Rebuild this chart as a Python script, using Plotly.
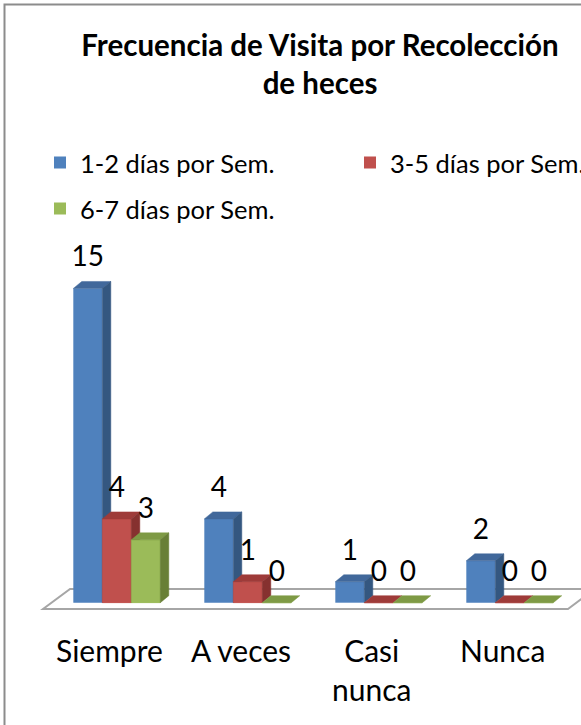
import plotly.graph_objects as go

# ---- data ----
categories = ["Siempre", "A veces", "Casi nunca", "Nunca"]
category_labels = ["Siempre", "A veces", "Casi<br>nunca", "Nunca"]
series_names = ["1-2 días por Sem.", "3-5 días por Sem.", "6-7 días por Sem."]
values_1_2 = [15, 4, 1, 2]
values_3_5 = [4, 1, 0, 0]
values_6_7 = [3, 0, 0, 0]
title_text = "Frecuencia de Visita por Recolección<br>de heces"

# ---- style ----
front_colors = ["#4F81BD", "#C0504D", "#9BBB59"]
top_colors = ["#41689B", "#9E3B39", "#7E9A45"]
side_colors = ["#345780", "#86312F", "#687F36"]
FONT = "Lato"
W, H = 581, 725
PX_PER_CAT = 131.0
X0_PX = 116.8
PX_PER_UNIT = 20.95
Y0_PX = 602.7
xr = [(0 - X0_PX) / PX_PER_CAT, (W - X0_PX) / PX_PER_CAT]
yr = [(Y0_PX - H) / PX_PER_UNIT, (Y0_PX - 0) / PX_PER_UNIT]

bargap = 0.336
nser = 3
bw = (1 - bargap) / nser
ddx = 8.5 / PX_PER_CAT
ddy = 7.0 / PX_PER_UNIT

all_values = [values_1_2, values_3_5, values_6_7]
xs = list(range(len(categories)))

fig = go.Figure()

legends = ["legend", "legend2", "legend3"]
for j, (name, vals) in enumerate(zip(series_names, all_values)):
    fig.add_trace(go.Bar(
        x=xs, y=vals, name=name, marker=dict(color=front_colors[j], line=dict(width=0)),
        legend=legends[j], hoverinfo="skip"))

for j, vals in enumerate(all_values):
    fx, fy, tx, ty, sx, sy = [], [], [], [], [], []
    for i, v in zip(xs, vals):
        x0 = i - (1 - bargap) / 2 + j * bw
        x1 = x0 + bw
        fx += [x0, x1, x1, x0, x0, None]
        fy += [0, 0, v, v, 0, None]
        tx += [x0, x1, x1 + ddx, x0 + ddx, x0, None]
        ty += [v, v, v + ddy, v + ddy, v, None]
        if v > 0:
            sx += [x1, x1 + ddx, x1 + ddx, x1, x1, None]
            sy += [0, ddy, v + ddy, v, 0, None]
    if j > 0:
        fig.add_trace(go.Scatter(x=fx, y=fy, mode="lines", fill="toself",
                                 fillcolor=front_colors[j], line=dict(width=0.5, color=front_colors[j]),
                                 showlegend=False, hoverinfo="skip"))
    fig.add_trace(go.Scatter(x=tx, y=ty, mode="lines", fill="toself",
                             fillcolor=top_colors[j], line=dict(width=0.5, color=top_colors[j]),
                             showlegend=False, hoverinfo="skip"))
    if sx:
        fig.add_trace(go.Scatter(x=sx, y=sy, mode="lines", fill="toself",
                                 fillcolor=side_colors[j], line=dict(width=0.5, color=side_colors[j]),
                                 showlegend=False, hoverinfo="skip"))

label_off = 29.0 / PX_PER_UNIT
for j, vals in enumerate(all_values):
    lx = [i - (1 - bargap) / 2 + (j + 0.5) * bw for i in xs]
    ly = [v + label_off for v in vals]
    fig.add_trace(go.Scatter(x=lx, y=ly, mode="text", text=[str(v) for v in vals],
                             textposition="middle center",
                             textfont=dict(family=FONT, size=28, color="black"),
                             showlegend=False, hoverinfo="skip"))

fl_x0 = -0.5 - 0.063
fl_x1 = len(categories) - 0.5 - 0.056
fl_dx = 27.0 / PX_PER_CAT
fl_yf = (Y0_PX - 609) / PX_PER_UNIT
fl_yb = (Y0_PX - 589) / PX_PER_UNIT
shapes = [
    dict(type="path", xref="x", yref="y", layer="below",
         path=f"M{fl_x0},{fl_yf} L{fl_x1},{fl_yf} L{fl_x1 + fl_dx},{fl_yb} L{fl_x0 + fl_dx},{fl_yb} Z",
         line=dict(color="#A6A6A6", width=2), fillcolor="white"),
    dict(type="rect", xref="paper", yref="paper",
         x0=4.5 / W, x1=1.05, y0=-0.05, y1=1 - 4.5 / H,
         line=dict(color="#8C8C8C", width=2), fillcolor="rgba(0,0,0,0)", layer="below"),
]

annotations = []
for i, lab in enumerate(category_labels):
    annotations.append(dict(x=i, y=(Y0_PX - 630) / PX_PER_UNIT, xref="x", yref="y",
                            text=lab, showarrow=False, xshift=-7, yanchor="top",
                            font=dict(family=FONT, size=30, color="black")))

leg_font = dict(family=FONT, size=25.5, color="black")
fig.update_layout(
    width=W, height=H,
    margin=dict(l=0, r=0, t=0, b=0, autoexpand=False),
    paper_bgcolor="white", plot_bgcolor="white",
    barmode="group", bargap=bargap, bargroupgap=0,
    xaxis=dict(range=xr, visible=False, fixedrange=True),
    yaxis=dict(range=yr, visible=False, fixedrange=True),
    title=dict(text="<b>" + title_text + "</b>", x=320 / W, xanchor="center",
               y=1 - 56 / H, yanchor="middle",
               font=dict(family=FONT, size=29.5, color="black")),
    legend=dict(x=40 / W, y=1 - 163 / H, xanchor="left", yanchor="middle",
                font=leg_font, bgcolor="rgba(0,0,0,0)"),
    legend2=dict(x=350 / W, y=1 - 163 / H, xanchor="left", yanchor="middle",
                 font=leg_font, bgcolor="rgba(0,0,0,0)"),
    legend3=dict(x=40 / W, y=1 - 209 / H, xanchor="left", yanchor="middle",
                 font=leg_font, bgcolor="rgba(0,0,0,0)"),
    shapes=shapes, annotations=annotations,
    showlegend=True,
)

fig.write_html("out.html", config={"displayModeBar": False},
               post_script="document.body.style.margin='0';document.body.style.overflow='hidden';")
